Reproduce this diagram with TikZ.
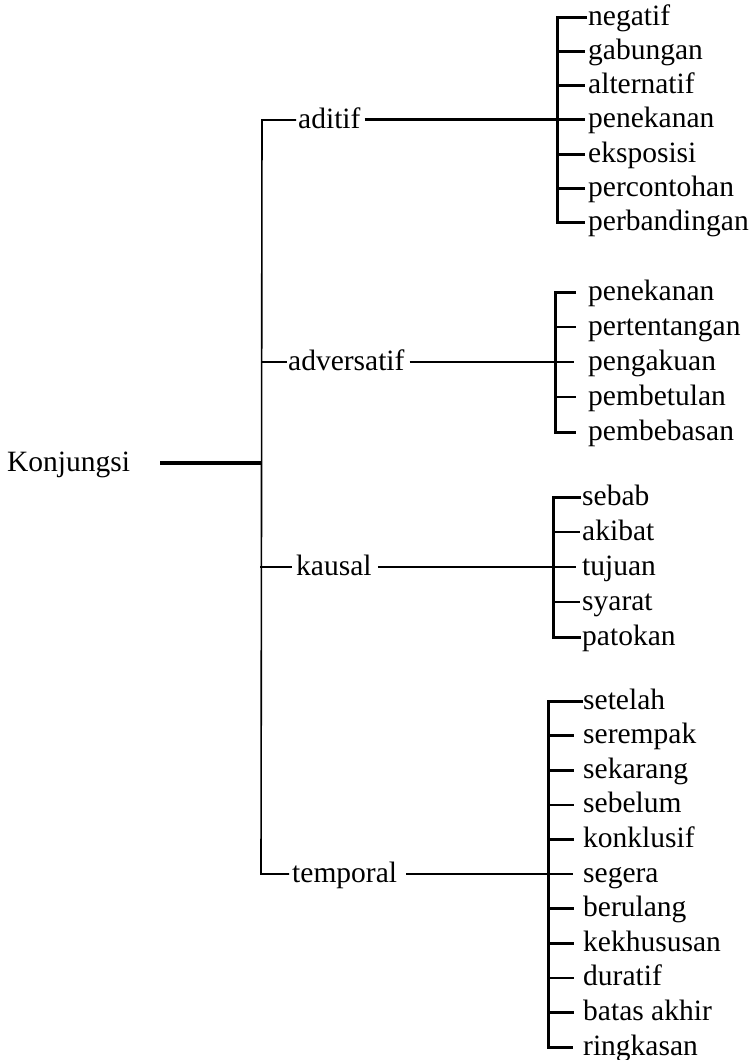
\documentclass[tikz,border=0pt]{standalone}
\usepackage{fontspec}
\setmainfont{Liberation Serif}
\begin{document}
\begin{tikzpicture}[x=1pt,y=-1pt,
  line join=miter,
  lbl/.style={anchor=base west,inner sep=0pt,font=\fontsize{29.5}{32}\selectfont},
  heavy/.style={line width=4pt},
  brace/.style={line width=3pt},
  tick/.style={line width=2.6pt},
  thin/.style={line width=1.6pt},
  gap/.style={shorten <=4pt,shorten >=3pt}]
\useasboundingbox (0,0) rectangle (752,1060);

% root and the four classes
\node[lbl] (konj) at (7,471) {Konjungsi};
\node[lbl] (adit) at (298,128) {aditif};
\node[lbl] (adve) at (288,370) {adversatif};
\node[lbl] (kaus) at (296,575) {kausal};
\node[lbl] (temp) at (292,882) {temporal};

\coordinate (spineT) at (262,120);
\coordinate (spineB) at (261,874);
\coordinate (spineK) at (262,463);
\coordinate (spineA) at (262,362);
\coordinate (spineC) at (262,567);

% main spine with its top and bottom corners
\draw[thin] ([xshift=-2pt]adit.west |- spineT) -- (spineT) -- (spineB) -- ([xshift=-3pt]temp.west |- spineB);
\draw[line width=2.2pt] ([xshift=-2pt]adit.west |- spineT) -- ([xshift=1pt]spineT);
\draw[line width=2.4pt] ([xshift=-3pt]temp.west |- spineB) -- ([xshift=-1pt]spineB);
\draw[heavy] ([xshift=30pt]konj.east |- spineK) -- (spineK);
\draw[thin] (spineA) -- ([xshift=-1pt]adve.west |- spineA);
\draw[line width=2.8pt] ([xshift=-2pt]spineC) -- ([xshift=-4pt]kaus.west |- spineC);

% aditif
\foreach \t [count=\i] in {negatif,gabungan,alternatif,penekanan,eksposisi,percontohan,perbandingan}{
  \coordinate (ay\i) at (557,{17+34.3*(\i-1)});
  \node[lbl] (a\i) at (588,{25+34.3*(\i-1)}) {\t};
}
\draw[brace] ([xshift=-1pt]a1.west |- ay1) -- (ay1) -- (ay7) -- ([xshift=-3pt]a7.west |- ay7);
\foreach \i in {2,3,5,6}{\draw[tick] (ay\i) -- ([xshift=-3pt]a\i.west |- ay\i);}
\draw[line width=3pt] ([xshift=4pt]adit.east |- ay4) -- ([xshift=-3pt]a4.west |- ay4);

% adversatif
\foreach \t [count=\i] in {penekanan,pertentangan,pengakuan,pembetulan,pembebasan}{
  \coordinate (by\i) at (555,{292+35*(\i-1)});
  \node[lbl] (b\i) at (588,{300+35*(\i-1)}) {\t};
}
\draw[brace] ([xshift=-12pt]b1.west |- by1) -- (by1) -- (by5) -- ([xshift=-12pt]b5.west |- by5);
\foreach \i in {2,4}{\draw[tick] (by\i) -- ([xshift=-12pt]b\i.west |- by\i);}
\draw[thin] ([xshift=5pt]adve.east |- by3) -- ([xshift=-14pt]b3.west |- by3);

% kausal
\foreach \t [count=\i] in {sebab,akibat,tujuan,syarat,patokan}{
  \coordinate (cy\i) at (553,{497+35*(\i-1)});
  \node[lbl] (c\i) at (582,{505+35*(\i-1)}) {\t};
}
\draw[brace] ([xshift=-1pt]c1.west |- cy1) -- (cy1) -- (cy5) -- ([xshift=-1pt]c5.west |- cy5);
\foreach \i in {2,4}{\draw[tick] (cy\i) -- ([xshift=-2pt]c\i.west |- cy\i);}
\draw[thin] ([xshift=6pt]kaus.east |- cy3) -- ([xshift=-6pt]c3.west |- cy3);

% temporal
\foreach \t [count=\i] in {setelah,serempak,sekarang,sebelum,konklusif,segera,berulang,kekhususan,duratif,batas akhir,ringkasan}{
  \coordinate (dy\i) at (548,{701+34.6*(\i-1)});
  \node[lbl] (d\i) at (583,{709+34.6*(\i-1)}) {\t};
}
\draw[brace] (d1.west |- dy1) -- (dy1) -- (dy11) -- ([xshift=-10pt]d11.west |- dy11);
\foreach \i in {2,3,4,5,7,8,9,10}{\draw[tick] (dy\i) -- ([xshift=-9pt]d\i.west |- dy\i);}
\draw[line width=2.2pt] ([xshift=9pt]temp.east |- dy6) -- ([xshift=-10pt]d6.west |- dy6);
\end{tikzpicture}
\end{document}
